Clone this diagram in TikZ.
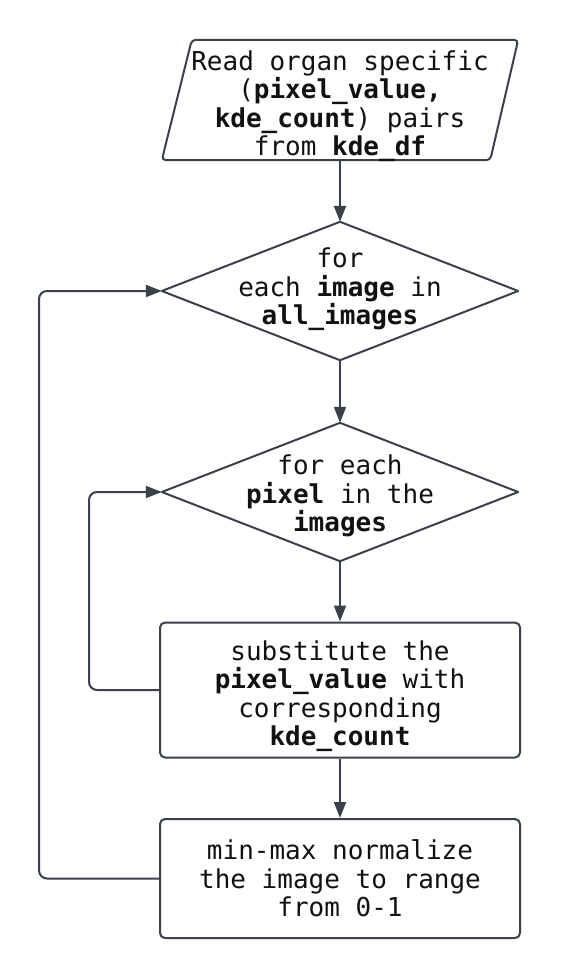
\documentclass[tikz,border=0pt]{standalone}
\usepackage{fontspec}
\setmonofont{DejaVu Sans Mono}
\usetikzlibrary{arrows.meta}
\definecolor{linec}{HTML}{3A414A}
\definecolor{txtc}{HTML}{111111}
\begin{document}
\begin{tikzpicture}[x=1pt,y=-1pt,
 lbl/.style={font=\ttfamily\fontsize{26}{28.5}\selectfont, align=center, text=txtc, inner sep=0pt},
 frame/.style={inner sep=0pt},
 shapeline/.style={draw=linec, line width=2pt, line join=round},
 conn/.style={draw=linec, line width=2pt, -{Triangle[length=16pt,width=12pt]}, rounded corners=8pt}]
\useasboundingbox[fill=white] (0,0) rectangle (560,979);
% input parallelogram
\node[frame, minimum width=356pt, minimum height=120pt] (p) at (340,100) {};
\draw[shapeline, rounded corners=4pt] ([xshift=30pt]p.north west) -- (p.north east) -- ([xshift=-28pt]p.south east) -- (p.south west) -- cycle;
\node[lbl] (pt) at ([yshift=-6pt]p.center) {Read organ specific\\(\textbf{pixel\_value,}\\\textbf{kde\_count}) pairs\\from \textbf{kde\_df}};
% decision 1
\node[frame, minimum width=356pt, minimum height=138pt] (d1) at (340,291) {};
\draw[shapeline] (d1.north) -- (d1.east) -- (d1.south) -- (d1.west) -- cycle;
\node[lbl] (d1t) at ([yshift=1.5pt]d1.center) {for\\each \textbf{image} in\\\textbf{all\_images}};
% decision 2
\node[frame, minimum width=356pt, minimum height=138pt] (d2) at (340,492) {};
\draw[shapeline] (d2.north) -- (d2.east) -- (d2.south) -- (d2.west) -- cycle;
\node[lbl] (d2t) at ([yshift=-4pt]d2.center) {for each\\\textbf{pixel} in the\\\textbf{images}};
% process boxes
\node[frame, shapeline, rounded corners=5pt, minimum width=360pt, minimum height=135pt] (r1) at (340,690) {};
\node[lbl] (r1t) at ([yshift=-6pt]r1.center) {substitute the\\\textbf{pixel\_value} with\\corresponding\\\textbf{kde\_count}};
\node[frame, shapeline, rounded corners=5pt, minimum width=360pt, minimum height=119pt] (r2) at (340,878.5) {};
\node[lbl] (r2t) at (r2.center) {min-max normalize\\the image to range\\from 0-1};
% connectors
\draw[conn] (p.south) -- (d1.north);
\draw[conn] (d1.south) -- (d2.north);
\draw[conn] (d2.south) -- (r1.north);
\draw[conn] (r1.south) -- (r2.north);
\draw[conn] (r1.west) -- ++(-70,0) |- (d2.west);
\draw[conn] (r2.west) -- ++(-120,0) |- (d1.west);
\end{tikzpicture}
\end{document}
